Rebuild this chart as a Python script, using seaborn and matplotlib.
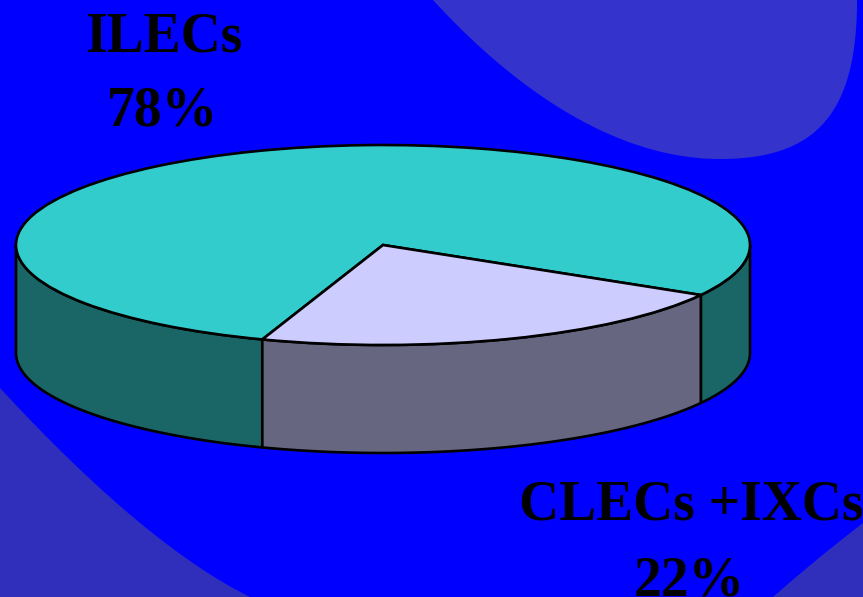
import numpy as np
import matplotlib
matplotlib.use("Agg")
import matplotlib.pyplot as plt
from matplotlib.patches import Polygon
from matplotlib.transforms import Affine2D
from math import comb
import seaborn as sns

# Market share data
categories = ["ILECs", "CLECs +IXCs"]
shares = [78, 22]

sns.set_theme(style="white")
plt.rcParams["font.family"] = ["Liberation Serif", "DejaVu Serif"]

top_colors = sns.color_palette(["#33CCCC", "#CCCCFF"])
side_colors = [tuple(0.5 * c for c in col) for col in top_colors]

BG = "#0000FF"
W, H = 863, 597
fig = plt.figure(figsize=(W / 100, H / 100), dpi=100, facecolor=BG)
ax = fig.add_axes([0, 0, 1, 1])
ax.set_facecolor(BG)


def bezier(ctrl, n=120):
    """Sample a Bezier curve of any degree."""
    c = np.asarray(ctrl, float)
    deg = len(c) - 1
    t = np.linspace(0, 1, n)[:, None]
    return sum(comb(deg, i) * t ** i * (1 - t) ** (deg - i) * c[i] for i in range(deg + 1))


# Decorative background shapes
blob_top = np.vstack([
    [(433, -10)],
    bezier([(433, 0), (520, 95), (620, 159), (720, 159)]),
    bezier([(720, 159), (815, 159), (857, 115), (857, 0)]),
    [(857, -10)],
])
blob_bl = np.vstack([[(-10, 388)], bezier([(0, 388), (145, 545), (250, 597)]),
                     [(250, 610), (-10, 610)]])
blob_br = np.vstack([[(773, 610)], bezier([(773, 597), (815, 560), (863, 523)]),
                     [(875, 523), (875, 610)]])
ax.add_patch(Polygon(blob_top, closed=True, facecolor="#3434CC", edgecolor="none", zorder=0))
for pts in (blob_bl, blob_br):
    ax.add_patch(Polygon(pts, closed=True, facecolor="#2F2FBC", edgecolor="none", zorder=0))

# Pie geometry (pixel space, y downwards)
CX, CY, RX, RY, DEPTH = 383, 245, 367, 100, 108
LW = 1.9

wedges, _ = ax.pie(shares, colors=top_colors, startangle=-30, counterclock=True,
                   radius=1, center=(0, 0),
                   wedgeprops=dict(edgecolor="black", linewidth=LW))
squash = Affine2D().scale(RX, -RY).translate(CX, CY) + ax.transData
for w in wedges:
    w.set_transform(squash)
    w.set_zorder(3)

# Visible front walls of each slice
for w, side in zip(wedges, side_colors):
    t1, t2 = w.theta1, w.theta2
    for k in (-1, 0, 1):
        lo, hi = max(t1, 180 + 360 * k), min(t2, 360 + 360 * k)
        if hi <= lo:
            continue
        t = np.radians(np.linspace(lo, hi, 200))
        top = np.column_stack([CX + RX * np.cos(t), CY - RY * np.sin(t)])
        bottom = top + [0, DEPTH]
        wall = np.vstack([top, bottom[::-1]])
        ax.add_patch(Polygon(wall, closed=True, facecolor=side, edgecolor="black",
                             linewidth=LW, joinstyle="round", zorder=2))

ax.set_aspect("auto")
ax.set_xlim(0, W)
ax.set_ylim(H, 0)
ax.axis("off")

# Slice labels
label_pos = [((164, 52), (162, 125)), ((691, 520), (689, 595))]
for name, val, ((x1, y1), (x2, y2)) in zip(categories, shares, label_pos):
    ax.text(x1, y1, name, ha="center", va="baseline", fontsize=40,
            fontweight="bold", color="black", zorder=5)
    ax.text(x2, y2, f"{val}%", ha="center", va="baseline", fontsize=40,
            fontweight="bold", color="black", zorder=5)

fig.savefig("out.png", dpi=100, facecolor=BG)
